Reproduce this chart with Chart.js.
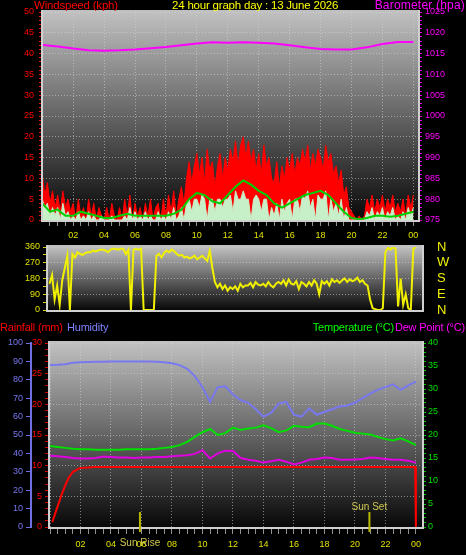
<!DOCTYPE html>
<html>
<head>
<meta charset="utf-8">
<script src="https://cdn.jsdelivr.net/npm/chart.js@4/dist/chart.umd.min.js"></script>
<style>
html, body { margin: 0; padding: 0; background: #000; width: 466px; height: 555px; overflow: hidden; }
canvas { position: absolute; left: 0; }
.t { position: absolute; font-family: "Liberation Sans", Arial, sans-serif; font-size: 11px; line-height: 12px; white-space: nowrap; letter-spacing: -0.2px; }
</style>
</head>
<body>
<canvas id="top" width="466" height="245" style="top:0"></canvas>
<canvas id="mid" width="466" height="83" style="top:237px"></canvas>
<canvas id="bot" width="466" height="240" style="top:315px"></canvas>

<div class="t" style="left:34px;top:-1px;color:#ff0000;font-size:11.5px">Windspeed (kph)</div>
<div class="t" style="left:172px;top:-1px;color:#ffff00;font-size:11.5px">24 hour graph day : 13 June 2026</div>
<div class="t" style="right:1px;top:-1px;color:#ff00ff;font-size:12px;letter-spacing:0.2px">Barometer (hpa)</div>

<div class="t" style="left:0;top:321px;color:#ff0000">Rainfall (mm)</div>
<div class="t" style="left:67px;top:321px;color:#8080ff">Humidity</div>
<div class="t" style="right:72px;top:321px;color:#00ff00">Temperature (°C)</div>
<div class="t" style="right:1px;top:321px;color:#ff00ff">Dew Point (°C)</div>

<script>
// wind, 10 minute readings (kph)
var gust = [
  11, 6, 9, 4, 7, 3,   6, 2, 7, 3, 5, 2,   4, 0, 5, 1, 3, 0,   5, 1, 4, 0, 3, 1,
  0, 3, 0, 4, 1, 0,    3, 0, 5, 1, 6, 0,   4, 1, 3, 0, 4, 1,   5, 0, 3, 4, 0, 5,
  1, 6, 2, 7, 1, 5,    8, 4, 10, 14, 9, 13, 16, 11, 15, 9, 17, 12, 14, 8, 13, 16, 10, 15,
  12, 17, 14, 19, 13, 18, 20, 15, 19, 14, 17, 12, 16, 11, 18, 13, 15, 10, 9, 14, 8, 13, 10, 15,
  12, 16, 11, 15, 13, 17, 14, 18, 12, 16, 13, 17, 15, 12, 18, 14, 16, 11, 13, 9, 12, 6, 8, 3,
  2, 1, 0, 1, 0, 1,    5, 3, 6, 2, 5, 3,   6, 2, 5, 3, 6, 2,   4, 2, 5, 1, 6, 3,
  6
];
var speed = [
  5, 3, 4, 1, 3, 1,   3, 0, 4, 1, 2, 0,   1, 0, 2, 0, 1, 0,   2, 0, 1, 0, 0, 1,
  0, 0, 0, 1, 0, 0,   0, 0, 1, 0, 3, 0,   2, 0, 1, 0, 2, 0,   1, 0, 0, 2, 0, 1,
  0, 2, 0, 3, 0, 1,   3, 0, 4, 5, 2, 5,   5, 3, 6, 5, 0, 5,   5, 2, 5, 5, 3, 5,
  5, 6, 2, 7, 5, 5,   7, 5, 5, 0, 5, 6,   5, 2, 5, 5, 0, 3,   1, 4, 0, 5, 2, 4,
  5, 0, 5, 5, 2, 6,   5, 7, 3, 5, 0, 6,   5, 5, 7, 0, 5, 2,   4, 1, 5, 0, 3, 0,
  0, 0, 0, 0, 0, 0,   2, 1, 3, 0, 2, 1,   3, 0, 2, 1, 3, 0,   1, 0, 2, 0, 3, 1,
  3
];
// 30 minute average
var avgSpeed = [
  4, 2, 2.5, 1, 1, 2, 1.5, 1, 0.5, 0.5, 1, 1.5, 1, 1, 1, 1, 1, 1.5, 2.5, 5,
  6.5, 6, 4.5, 4, 6, 8, 9.5, 8.5, 7, 6, 4, 3, 4, 5, 6, 6.5, 7, 6, 4, 2,
  0.5, 0.2, 0.5, 1, 1, 0.8, 1, 1.5, 2
];
// hourly barometer (hpa)
var baro = [
  1017.1, 1016.7, 1016.2, 1015.8, 1015.7, 1015.8, 1016.0, 1016.3, 1016.6, 1017.0,
  1017.4, 1017.7, 1017.6, 1017.7, 1017.6, 1017.4, 1017.0, 1016.5, 1016.1, 1016.0,
  1016.0, 1016.5, 1017.3, 1017.8, 1017.8
];
// wind direction, 10 minute readings (degrees)
var windDir = [
  150, 200, 60, 140, 30, 170,   240, 310, 0, 320, 300, 330,   320, 315, 325, 330, 330, 340,
  335, 340, 345, 345, 340, 330, 345, 350, 350, 345, 350, 350,   320, 345, 0, 345, 350, 345,
  350, 0, 0, 0, 0, 0,           310, 320, 300, 325, 340, 330,   345, 335, 320, 310, 315, 300,
  305, 295, 300, 310, 290, 300, 310, 295, 280, 340, 240, 160,   130, 150, 120, 140, 110, 130,
  120, 135, 110, 150, 130, 140, 140, 155, 130, 160, 145, 140,   150, 135, 160, 140, 130, 150,
  160, 150, 170, 140, 175, 150, 145, 165, 120, 160, 150, 135,   160, 140, 170, 150, 90, 165,
  150, 165, 140, 175, 160, 170, 155, 170, 180, 160, 175, 165,   170, 185, 160, 170, 150, 140,
  60, 10, 5, 0, 0, 10,          330, 355, 345, 360, 350, 20,    180, 30, 90, 10, 0, 350,
  360
];
// rain (mm) at these hours
var rainHours = [0.15, 0.45, 0.75, 1.0, 1.2, 1.5, 1.95, 3.0, 12.0, 23.95, 24.0];
var rain = [0.8, 3.0, 5.2, 6.8, 7.9, 9.0, 9.6, 9.8, 9.8, 9.8, 0];
// 30 minute readings
var humidity = [
  88.0, 88.2, 88.5, 89.3, 89.5, 89.7, 89.8, 89.8, 89.9, 89.9, 89.9, 89.9, 89.9, 89.9, 89.8, 89.6,
  89.0, 88.0, 86, 82, 76, 68, 76, 76.5, 72, 69, 67.5, 64, 60, 62, 67, 68,
  61, 60, 64.5, 61, 62.5, 64, 65.5, 66, 67.5, 70, 72.5, 74.5, 76, 77.5, 74.5, 77, 79
];
var temperature = [
  17.6, 17.4, 17.2, 17.0, 16.9, 16.9, 16.8, 16.8, 16.8, 16.8, 16.9, 16.9, 16.9, 16.9, 17.0, 17.2,
  17.4, 17.8, 18.5, 19.6, 20.6, 21.3, 20.0, 20.4, 21.6, 21.1, 21.4, 21.6, 22.1, 21.5, 20.6, 21.0,
  22.0, 21.8, 21.7, 22.5, 22.5, 22.0, 21.3, 20.9, 20.5, 20.3, 20.1, 19.6, 19.1, 18.8, 19.3, 18.6, 17.8
];
var dewPoint = [
  15.5, 15.4, 15.2, 15.0, 14.9, 14.9, 15.0, 15.3, 15.2, 15.1, 15.1, 15.0, 15.1, 15.1, 15.2, 15.2,
  15.4, 15.5, 15.6, 15.9, 16.7, 14.9, 16.0, 16.6, 16.5, 15.0, 14.6, 14.4, 14.0, 14.3, 14.6, 14.2,
  13.6, 14.0, 14.6, 14.8, 15.1, 15.0, 14.6, 14.6, 14.7, 14.8, 15.1, 15.0, 14.8, 14.6, 14.6, 14.4, 14.0
];
var sunHours = [5.9, 20.95];
var sunLabels = ['Sun Rise', 'Sun Set'];
var compass = { 0: 'N', 90: 'E', 180: 'S', 270: 'W', 360: 'N' };


Chart.defaults.font.family = "'Liberation Sans', Arial, sans-serif";
Chart.defaults.font.size = 9;
Chart.defaults.animation = false;

var dots = 'rgba(215,215,215,0.55)';
var tickYellow = '#e0e000';

function series(step, vals) {
  return vals.map((v, i) => ({ x: i * step, y: v }));
}
function pairs(xs, vals) {
  return vals.map((v, i) => ({ x: xs[i], y: v }));
}
function isStep(v, n) {
  return Math.abs(v / n - Math.round(v / n)) < 1e-6;
}
function hourLabel(v) {
  if (!isStep(v, 2) || v < 1) return '';
  return String(Math.round(v) % 24).padStart(2, '0');
}

// gradient plot background + light frame
var panelBg = {
  id: 'panelBg',
  beforeDraw(chart) {
    var a = chart.chartArea, ctx = chart.ctx;
    var g = ctx.createLinearGradient(0, a.top, 0, a.bottom);
    g.addColorStop(0, '#c0c0c0');
    g.addColorStop(1, '#080808');
    ctx.save();
    ctx.fillStyle = g;
    ctx.fillRect(a.left, a.top - 2, a.right - a.left, a.bottom - a.top + 2);
    ctx.restore();
  },
  afterDatasetsDraw(chart) {
    var a = chart.chartArea, ctx = chart.ctx;
    ctx.save();
    ctx.strokeStyle = '#d0d0d0';
    ctx.lineWidth = 2;
    ctx.beginPath();
    ctx.moveTo(a.left - 1, a.top - 2);
    ctx.lineTo(a.left - 1, a.bottom + 1);
    ctx.lineTo(a.right + 1, a.bottom + 1);
    ctx.lineTo(a.right + 1, a.top - 2);
    ctx.stroke();
    ctx.restore();
  }
};

var sunMarks = {
  id: 'sunMarks',
  afterDatasetsDraw(chart) {
    var a = chart.chartArea, ctx = chart.ctx, x = chart.scales.x;
    ctx.save();
    sunHours.forEach((h, i) => {
      var px = x.getPixelForValue(h);
      ctx.strokeStyle = '#b8b800';
      ctx.lineWidth = 2;
      ctx.beginPath();
      ctx.moveTo(px, a.bottom + 5);
      ctx.lineTo(px, a.bottom - 15);
      ctx.stroke();
      ctx.fillStyle = '#d0c850';
      ctx.font = "10px 'Liberation Sans', Arial";
      ctx.textAlign = 'center';
      ctx.textBaseline = 'middle';
      ctx.fillText(sunLabels[i], px, i == 0 ? a.bottom + 16 : a.bottom - 20);
    });
    ctx.restore();
  }
};

function timeAxis(min, max, height, showLabels, tickLen, pad) {
  return {
    type: 'linear', position: 'bottom', min: min, max: max,
    afterFit: s => { s.height = height; },
    ticks: {
      display: showLabels, stepSize: 0.5, autoSkip: false, maxRotation: 0, includeBounds: false,
      maxTicksLimit: 1000, color: tickYellow, padding: pad, callback: hourLabel
    },
    grid: {
      color: c => isStep(c.tick.value, 2) ? dots : 'transparent',
      tickColor: c => isStep(c.tick.value, 0.5) ? '#909090' : 'transparent',
      tickLength: tickLen, drawTicks: showLabels
    },
    border: { display: false, dash: [1, 2] }
  };
}

// top: wind speed + barometer
new Chart(document.getElementById('top'), {
  type: 'line',
  data: {
    datasets: [
      { label: 'Barometer', data: series(1, baro), yAxisID: 'baro', borderColor: '#ff00ff',
        borderWidth: 2, pointRadius: 0, order: 0 },
      { label: 'Average', data: series(0.5, avgSpeed), yAxisID: 'wind', borderColor: '#00d000',
        borderWidth: 2, pointRadius: 0, order: 1 },
      { label: 'Speed', data: series(1 / 6, speed), yAxisID: 'wind', borderColor: '#c8f0c8',
        backgroundColor: '#c8f0c8', fill: 'origin', borderWidth: 1, pointRadius: 0, order: 2 },
      { label: 'Gust', data: series(1 / 6, gust), yAxisID: 'wind', borderColor: '#ff0000',
        backgroundColor: '#ff0000', fill: 'origin', borderWidth: 1, pointRadius: 0, order: 3 }
    ]
  },
  options: {
    responsive: false,
    layout: { padding: { top: 12 } },
    plugins: { legend: { display: false }, tooltip: { enabled: false } },
    scales: {
      x: timeAxis(0.05, 24.3, 25, true, 6, 4),
      wind: {
        position: 'left', min: 0, max: 50,
        afterFit: s => { s.width = 43; },
        ticks: { stepSize: 1, autoSkip: false, maxTicksLimit: 1000, color: '#ff0000', padding: 5,
          callback: v => isStep(v, 5) ? v : '' },
        grid: { color: c => isStep(c.tick.value, 5) ? dots : 'transparent', tickColor: '#e00000', tickLength: 4 },
        border: { display: false, dash: [1, 2] }
      },
      baro: {
        position: 'right', min: 975, max: 1025,
        afterFit: s => { s.width = 48; },
        ticks: { stepSize: 1, autoSkip: false, maxTicksLimit: 1000, color: '#ff00ff', padding: 3,
          callback: v => isStep(v, 5) ? v : '' },
        grid: { drawOnChartArea: false, tickColor: '#e000e0', tickLength: 4 },
        border: { display: false }
      }
    }
  },
  plugins: [panelBg]
});

// middle: wind direction
new Chart(document.getElementById('mid'), {
  type: 'line',
  data: {
    datasets: [
      { label: 'Direction', data: series(1 / 6, windDir), yAxisID: 'y', borderColor: '#f0f000',
        borderWidth: 2, pointRadius: 0 }
    ]
  },
  options: {
    responsive: false,
    layout: { padding: { top: 10 } },
    plugins: { legend: { display: false }, tooltip: { enabled: false } },
    scales: {
      x: timeAxis(-0.1, 24.4, 10, false, 0, 0),
      y: {
        position: 'left', min: 0, max: 360,
        afterFit: s => { s.width = 48; },
        ticks: { stepSize: 45, autoSkip: false, color: tickYellow, padding: 3,
          callback: v => isStep(v, 90) ? v : '' },
        grid: { color: c => isStep(c.tick.value, 90) ? dots : 'transparent', tickColor: '#d0d000', tickLength: 5 },
        border: { display: false, dash: [1, 2] }
      },
      compass: {
        position: 'right', min: 0, max: 360,
        afterFit: s => { s.width = 44; },
        ticks: { stepSize: 90, autoSkip: false, color: '#f0f000', padding: 1, font: { size: 13 },
          callback: v => compass[v] || '' },
        grid: { drawOnChartArea: false, tickColor: 'transparent', tickLength: 14 },
        border: { display: false }
      }
    }
  },
  plugins: [panelBg]
});

// bottom: rain, humidity, temperature, dew point
new Chart(document.getElementById('bot'), {
  type: 'line',
  data: {
    datasets: [
      { label: 'Rainfall', data: pairs(rainHours, rain), yAxisID: 'rain', borderColor: '#ff0000',
        borderWidth: 2, pointRadius: 0 },
      { label: 'Humidity', data: series(0.5, humidity), yAxisID: 'hum', borderColor: '#7878f0',
        borderWidth: 2, pointRadius: 0 },
      { label: 'Temperature', data: series(0.5, temperature), yAxisID: 'temp', borderColor: '#00e000',
        borderWidth: 2, pointRadius: 0 },
      { label: 'Dew Point', data: series(0.5, dewPoint), yAxisID: 'temp', borderColor: '#e000e0',
        borderWidth: 2, pointRadius: 0 }
    ]
  },
  options: {
    responsive: false,
    layout: { padding: { top: 28 } },
    plugins: { legend: { display: false }, tooltip: { enabled: false } },
    scales: {
      x: timeAxis(0, 24.4, 28, true, 7, 5),
      hum: {
        position: 'left', weight: 1, min: 0, max: 100,
        afterFit: s => { s.width = 31; },
        ticks: { stepSize: 10, autoSkip: false, color: '#7878f0', padding: 3 },
        grid: { drawOnChartArea: false, tickColor: '#7070e0', tickLength: 5 },
        border: { display: true, color: '#7070e0', width: 2 }
      },
      rain: {
        position: 'left', weight: 0, min: 0, max: 30,
        afterFit: s => { s.width = 19; },
        ticks: { stepSize: 1, autoSkip: false, maxTicksLimit: 1000, color: '#ff0000', padding: 3,
          callback: v => isStep(v, 5) ? v : '' },
        grid: { color: c => isStep(c.tick.value, 5) ? dots : 'transparent', tickColor: '#d00000', tickLength: 5 },
        border: { display: false, dash: [1, 2] }
      },
      temp: {
        position: 'right', min: 0, max: 40,
        afterFit: s => { s.width = 44; },
        ticks: { stepSize: 1, autoSkip: false, maxTicksLimit: 1000, color: '#00e000', padding: 2,
          callback: v => isStep(v, 5) ? v : '' },
        grid: { drawOnChartArea: false, tickColor: '#00c000', tickLength: 4 },
        border: { display: false }
      }
    }
  },
  plugins: [panelBg, sunMarks]
});
</script>
</body>
</html>
